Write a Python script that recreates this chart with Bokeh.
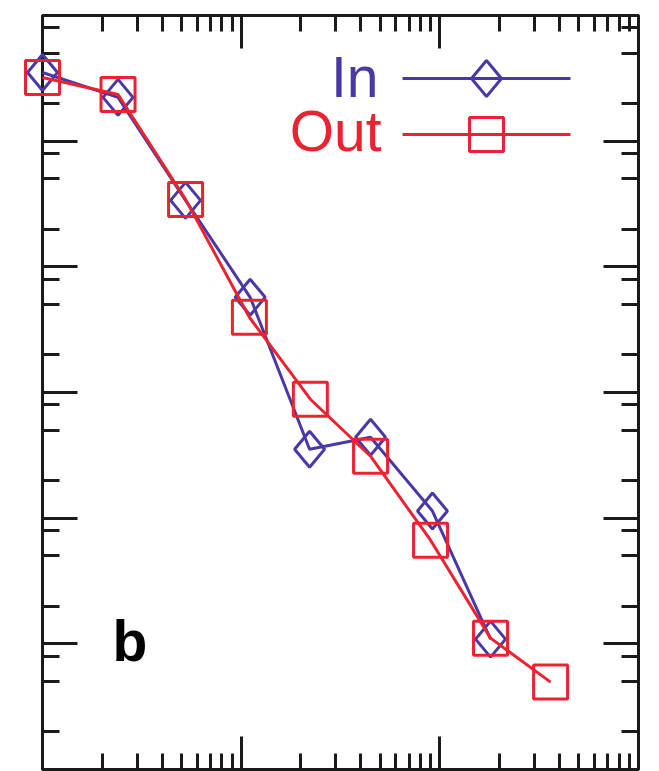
import numpy as np
from bokeh.plotting import figure
from bokeh.models import (FixedTicker, LogAxis, Range1d, LinearScale,
                          CustomJSTickFormatter)
from bokeh.core.properties import value
from bokeh.embed import file_html
from bokeh.resources import INLINE

# ---- data (log-log degree distribution, panel b) ----
x_in = [1.0, 2.4, 5.25, 11.1, 22.1, 44.8, 91.8, 180.0]
y_in = [352000, 223000, 33800, 5720, 354, 441, 114, 10.9]

x_out = [1.0, 2.4, 5.25, 11.0, 22.3, 44.8, 89.8, 180.0, 361.0]
y_out = [321000, 235000, 34400, 3970, 884, 311, 66.8, 11.1, 4.96]

series_names = ["In", "Out"]
panel_tag = "b"

# axis ticks (no tick labels are shown)
x_major = [1, 10, 100, 1000]
x_minor = [k * 10 ** d for d in range(3) for k in range(2, 10)]
y_major = [10 ** d for d in range(7)]
y_minor = [k * 10 ** d for d in range(6) for k in (2, 5, 8)]

BLUE = "#4a38a6"
RED = "#ea2330"
INK = "#1a1a1a"
LW = 3

FW, FH = 596, 754           # frame size in px
X0, X1 = 1, 1000
Y0, Y1 = 1, 1e6

p = figure(width=659, height=771, x_axis_type="log", y_axis_type="log",
           x_range=Range1d(X0, X1), y_range=Range1d(Y0, Y1),
           x_axis_location=None, y_axis_location=None,
           output_backend="svg", toolbar_location=None,
           min_border_left=42, min_border_right=21,
           min_border_top=15, min_border_bottom=2)
p.grid.visible = False
p.outline_line_color = INK
p.outline_line_width = 3
p.background_fill_color = "white"
p.border_fill_color = "white"

# pixel-space ranges for the key and the panel tag
p.extra_x_ranges = {"px": Range1d(0, FW)}
p.extra_y_ranges = {"px": Range1d(FH, 0)}
p.extra_x_scales = {"px": LinearScale()}
p.extra_y_scales = {"px": LinearScale()}

blank = CustomJSTickFormatter(code="return ''")


def add_axis(loc, major, minor, major_len, minor_len):
    ax = LogAxis(ticker=FixedTicker(ticks=major, minor_ticks=minor),
                 formatter=blank)
    ax.major_tick_in = major_len
    ax.major_tick_out = 0
    ax.minor_tick_in = minor_len
    ax.minor_tick_out = 0
    ax.axis_line_color = INK
    ax.axis_line_width = 3
    ax.major_tick_line_color = INK
    ax.minor_tick_line_color = INK
    ax.major_tick_line_width = 3
    ax.minor_tick_line_width = 3
    ax.major_label_text_font_size = "0px"
    ax.major_label_standoff = 0
    p.add_layout(ax, loc)


add_axis("below", x_major, x_minor, 33, 16)
add_axis("above", x_major, x_minor, 33, 16)
add_axis("left", y_major, y_minor, 35, 17)
add_axis("right", y_major, y_minor, 35, 17)

# diamond outlines built in log space so they keep a fixed pixel shape
ppd_x = FW / np.log10(X1 / X0)
ppd_y = FH / np.log10(Y1 / Y0)
HW, HH = 15, 18


def diamonds(xs, ys):
    dx = 10 ** (HW / ppd_x)
    dy = 10 ** (HH / ppd_y)
    px, py = [], []
    for x, y in zip(xs, ys):
        px.append([x / dx, x, x * dx, x])
        py.append([y, y * dy, y, y / dy])
    return px, py


# markers sit on the frame edge, so draw the series above the frame clip
LVL = "annotation"

# In series
p.line(x_in, y_in, line_color=BLUE, line_width=LW, level=LVL)
dxs, dys = diamonds(x_in, y_in)
p.patches(dxs, dys, fill_color=None, line_color=BLUE, line_width=LW,
          level=LVL)

# Out series
p.line(x_out, y_out, line_color=RED, line_width=LW, level=LVL)
p.scatter(x_out, y_out, marker="square", size=34, fill_color=None,
          line_color=RED, line_width=LW, level=LVL)

# key: label on the left, line with marker on the right
font = value("Liberation Sans")
p.text(x=[336, 339], y=[61, 115], text=series_names,
       x_range_name="px", y_range_name="px",
       text_font=font, text_font_size="57px",
       text_color=[BLUE, RED], text_align="right",
       text_baseline="alphabetic")
p.segment(x0=[360, 360], y0=[63, 119], x1=[528, 528], y1=[63, 119],
          x_range_name="px", y_range_name="px",
          line_color=[BLUE, RED], line_width=LW)
p.patch([444 - HW, 444, 444 + HW, 444], [63, 63 - HH, 63, 63 + HH],
        x_range_name="px", y_range_name="px",
        fill_color=None, line_color=BLUE, line_width=LW)
p.scatter([444], [119], marker="square", size=34,
          x_range_name="px", y_range_name="px",
          fill_color=None, line_color=RED, line_width=LW)

# panel tag
p.text(x=[70], y=[625], text=[panel_tag], x_range_name="px", y_range_name="px",
       text_font=font, text_font_size="57px", text_font_style="bold",
       text_color="black", text_align="left", text_baseline="alphabetic")

open("out.html", "w").write(file_html(p, INLINE))
